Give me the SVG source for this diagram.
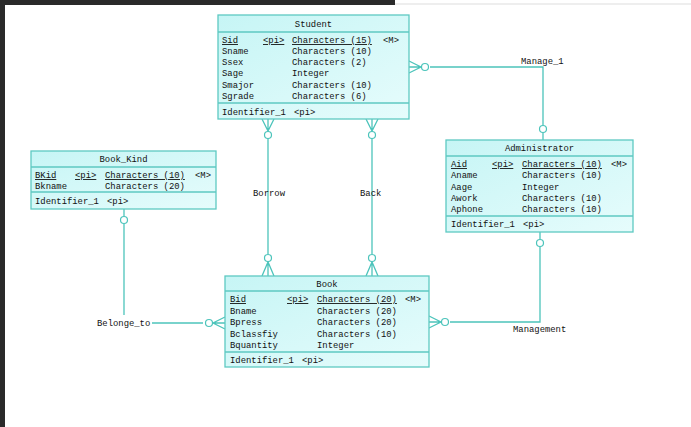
<svg xmlns="http://www.w3.org/2000/svg" width="691" height="427" viewBox="0 0 691 427">
<defs>
<linearGradient id="g" x1="0" y1="0" x2="1" y2="1">
<stop offset="0" stop-color="#c6f5f5"/>
<stop offset="1" stop-color="#e6fcfc"/>
</linearGradient>
<style>
.box{fill:url(#g);stroke:#5ec9c2;stroke-width:1.3}
.div{stroke:#5ec9c2;stroke-width:1.3}
.t{font-family:"Liberation Mono","DejaVu Sans Mono",monospace;font-size:8.9px;fill:#111}
.tc{text-anchor:middle}
.u{text-decoration:underline}
.ln{fill:none;stroke:#4cc4bb;stroke-width:1.3}
.o{fill:#fff;stroke:#4cc4bb;stroke-width:1.2}
.lb{font-family:"Liberation Mono","DejaVu Sans Mono",monospace;font-size:8.9px;fill:#111}
</style>
</defs>
<rect x="0" y="0" width="691" height="427" fill="#fff"/>
<rect x="0" y="0" width="395" height="5" fill="#2a2a2a"/>
<rect x="0" y="0" width="5" height="427" fill="#2a2a2a"/>
<line x1="395" y1="4" x2="691" y2="4" stroke="#ddd" stroke-width="1"/>

<g id="connectors">
<!-- Borrow -->
<polyline class="ln" points="268,131 268,254"/>
<path class="ln" d="M262,119 L268,131 L274,119 M268,119 L268,131"/>
<circle class="o" cx="268" cy="135" r="3.5"/>
<path class="ln" d="M262,276 L268,262 L274,276 M268,276 L268,262"/>
<circle class="o" cx="268" cy="258" r="3.5"/>
<text class="lb" x="253" y="196">Borrow</text>
<!-- Back -->
<polyline class="ln" points="372,131 372,254"/>
<path class="ln" d="M366,119 L372,131 L378,119 M372,119 L372,131"/>
<circle class="o" cx="372" cy="135" r="3.5"/>
<path class="ln" d="M366,276 L372,262 L378,276 M372,276 L372,262"/>
<circle class="o" cx="372" cy="258" r="3.5"/>
<text class="lb" x="360" y="196">Back</text>
<!-- Manage_1 -->
<polyline class="ln" points="430,67 543,67 543,125"/>
<path class="ln" d="M409,61 L421,67 L409,73 M409,67 L421,67"/>
<circle class="o" cx="425" cy="67" r="3.5"/>
<line class="ln" x1="543" y1="133" x2="543" y2="140"/>
<circle class="o" cx="543" cy="129" r="3.5"/>
<text class="lb" x="521" y="64">Manage_1</text>
<!-- Management -->
<polyline class="ln" points="540,247 540,322 450,322"/>
<line class="ln" x1="540" y1="232" x2="540" y2="239"/>
<circle class="o" cx="540" cy="243" r="3.5"/>
<path class="ln" d="M429,316 L441,322 L429,328 M429,322 L441,322"/>
<circle class="o" cx="445" cy="322" r="3.5"/>
<text class="lb" x="513" y="332">Management</text>
<!-- Belonge_to -->
<line class="ln" x1="124" y1="209" x2="124" y2="216"/>
<circle class="o" cx="124" cy="220" r="3.5"/>
<polyline class="ln" points="124,224 124,315"/>
<polyline class="ln" points="152,323 203,323"/>
<path class="ln" d="M225,317 L213,323 L225,329 M225,323 L213,323"/>
<circle class="o" cx="209" cy="323" r="3.5"/>
<text class="lb" x="97" y="326">Belonge_to</text>
</g>

<g id="Student">
<rect class="box" x="218" y="15" width="191" height="104"/>
<line class="div" x1="218" y1="32" x2="409" y2="32"/>
<line class="div" x1="218" y1="103" x2="409" y2="103"/>
<text class="t tc" x="313.5" y="27">Student</text>
<text class="t u" x="222" y="43">Sid</text><text class="t u" x="263" y="43">&lt;pi&gt;</text><text class="t u" x="292" y="43">Characters (15)</text><text class="t" x="383" y="43">&lt;M&gt;</text>
<text class="t" x="222" y="54">Sname</text><text class="t" x="292" y="54">Characters (10)</text>
<text class="t" x="222" y="65">Ssex</text><text class="t" x="292" y="65">Characters (2)</text>
<text class="t" x="222" y="76">Sage</text><text class="t" x="292" y="76">Integer</text>
<text class="t" x="222" y="88">Smajor</text><text class="t" x="292" y="88">Characters (10)</text>
<text class="t" x="222" y="99">Sgrade</text><text class="t" x="292" y="99">Characters (6)</text>
<text class="t" x="222" y="115">Identifier_1</text><text class="t" x="294" y="115">&lt;pi&gt;</text>
</g>

<g id="Book_Kind">
<rect class="box" x="31" y="151" width="185" height="58"/>
<line class="div" x1="31" y1="167" x2="216" y2="167"/>
<line class="div" x1="31" y1="192" x2="216" y2="192"/>
<text class="t tc" x="123.5" y="162">Book_Kind</text>
<text class="t u" x="35" y="178">BKid</text><text class="t u" x="75" y="178">&lt;pi&gt;</text><text class="t u" x="105" y="178">Characters (10)</text><text class="t" x="195" y="178">&lt;M&gt;</text>
<text class="t" x="35" y="189">Bkname</text><text class="t" x="105" y="189">Characters (20)</text>
<text class="t" x="35" y="204">Identifier_1</text><text class="t" x="107" y="204">&lt;pi&gt;</text>
</g>

<g id="Administrator">
<rect class="box" x="446" y="140" width="187" height="92"/>
<line class="div" x1="446" y1="156" x2="633" y2="156"/>
<line class="div" x1="446" y1="216" x2="633" y2="216"/>
<text class="t tc" x="539.5" y="151">Administrator</text>
<text class="t u" x="451" y="167">Aid</text><text class="t u" x="492" y="167">&lt;pi&gt;</text><text class="t u" x="522" y="167">Characters (10)</text><text class="t" x="611" y="167">&lt;M&gt;</text>
<text class="t" x="451" y="178">Aname</text><text class="t" x="522" y="178">Characters (10)</text>
<text class="t" x="451" y="190">Aage</text><text class="t" x="522" y="190">Integer</text>
<text class="t" x="451" y="201">Awork</text><text class="t" x="522" y="201">Characters (10)</text>
<text class="t" x="451" y="212">Aphone</text><text class="t" x="522" y="212">Characters (10)</text>
<text class="t" x="451" y="227">Identifier_1</text><text class="t" x="523" y="227">&lt;pi&gt;</text>
</g>

<g id="Book">
<rect class="box" x="225" y="276" width="204" height="91"/>
<line class="div" x1="225" y1="291" x2="429" y2="291"/>
<line class="div" x1="225" y1="352" x2="429" y2="352"/>
<text class="t tc" x="327" y="287">Book</text>
<text class="t u" x="230" y="302">Bid</text><text class="t u" x="287" y="302">&lt;pi&gt;</text><text class="t u" x="317" y="302">Characters (20)</text><text class="t" x="405" y="302">&lt;M&gt;</text>
<text class="t" x="230" y="314">Bname</text><text class="t" x="317" y="314">Characters (20)</text>
<text class="t" x="230" y="325">Bpress</text><text class="t" x="317" y="325">Characters (20)</text>
<text class="t" x="230" y="337">Bclassfiy</text><text class="t" x="317" y="337">Characters (10)</text>
<text class="t" x="230" y="348">Bquantity</text><text class="t" x="317" y="348">Integer</text>
<text class="t" x="230" y="363">Identifier_1</text><text class="t" x="302" y="363">&lt;pi&gt;</text>
</g>
</svg>
